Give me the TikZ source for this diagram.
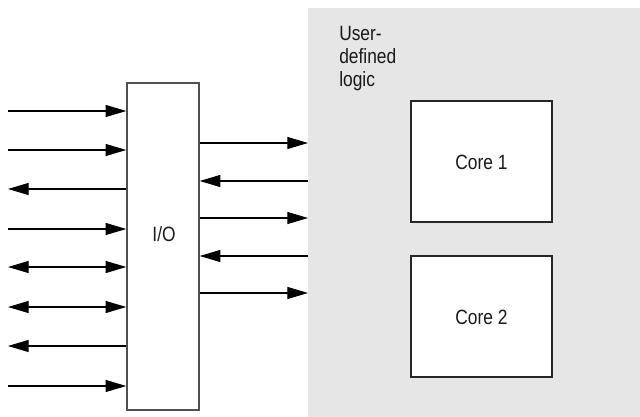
\documentclass[tikz,border=0pt]{standalone}
\usepackage{fontspec}
\setmainfont{Liberation Sans}
\newfontfamily\narrowsans{Liberation Sans}[FakeStretch=0.84]
\usetikzlibrary{arrows.meta,fit}
\definecolor{bggray}{RGB}{230,230,230}
\definecolor{edgegray}{RGB}{80,80,80}
\begin{document}
\begin{tikzpicture}[x=0.75pt,y=-0.75pt,
  iobox/.style={draw=edgegray,line width=1.1pt,inner sep=0pt},
  corebox/.style={draw=black!85,line width=0.9pt,fill=white,inner sep=0pt},
  sig/.style={line width=0.8pt,-{Triangle[length=15.5pt,width=9pt]}},
  sigb/.style={line width=0.8pt,{Triangle[length=15.5pt,width=9pt]}-{Triangle[length=15.5pt,width=9pt]}},
  lbl/.style={font=\narrowsans\fontsize{15.5}{17.6}\selectfont,inner sep=0pt,text=black!90}]
\useasboundingbox (0,0) rectangle (640,417);
% user-defined logic region
\coordinate (gA) at (308,8);
\coordinate (gB) at (640,417);
\node[fit=(gA)(gB),fill=bggray,inner sep=0pt,outer sep=0pt] (udl) {};
\node[lbl,align=left,anchor=base west] (udltext) at (339,87) {User-\\defined\\logic};
% cores
\coordinate (c1a) at (411,101);
\coordinate (c1b) at (552,222);
\node[corebox,fit=(c1a)(c1b)] (core1) {};
\node[lbl,anchor=base] (core1lbl) at (481.5,170) {Core 1};
\coordinate (c2a) at (411,256);
\coordinate (c2b) at (552,377);
\node[corebox,fit=(c2a)(c2b)] (core2) {};
\node[lbl,anchor=base] (core2lbl) at (481.5,325) {Core 2};
% I/O block
\coordinate (ioA) at (127,83);
\coordinate (ioB) at (199,410);
\node[iobox,fit=(ioA)(ioB)] (io) {};
\node[lbl,anchor=base] (iolbl) at (164,241.5) {I/O};
% left signals
\coordinate (l1) at (8,111);
\coordinate (l2) at (8,150);
\coordinate (l3) at (8,189);
\coordinate (l4) at (8,229);
\coordinate (l5) at (8,267);
\coordinate (l6) at (8,307);
\coordinate (l7) at (8,346);
\coordinate (l8) at (8,386);
\draw[sig] (l1) -- (l1 -| io.west);
\draw[sig] (l2) -- (l2 -| io.west);
\draw[sig] (l3 -| io.west) -- (l3);
\draw[sig] (l4) -- (l4 -| io.west);
\draw[sigb] (l5) -- (l5 -| io.west);
\draw[sigb] (l6) -- (l6 -| io.west);
\draw[sig] (l7 -| io.west) -- (l7);
\draw[sig] (l8) -- (l8 -| io.west);
% right signals
\coordinate (r1) at (308,143);
\coordinate (r2) at (308,181);
\coordinate (r3) at (308,218);
\coordinate (r4) at (308,256);
\coordinate (r5) at (308,293);
\draw[sig] (r1 -| io.east) -- (r1);
\draw[sig] (r2) -- (r2 -| io.east);
\draw[sig] (r3 -| io.east) -- (r3);
\draw[sig] (r4) -- (r4 -| io.east);
\draw[sig] (r5 -| io.east) -- (r5);
\end{tikzpicture}
\end{document}
